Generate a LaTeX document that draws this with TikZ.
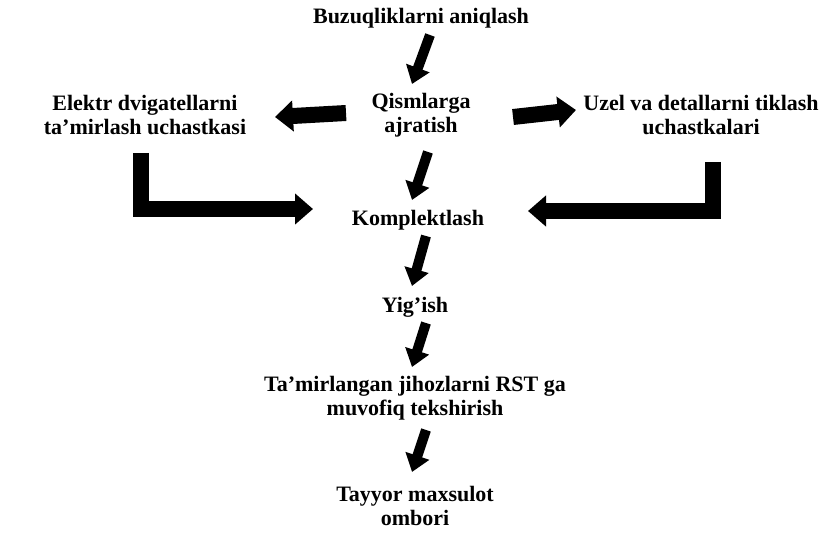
\documentclass[tikz,border=0pt]{standalone}
\usepackage{fontspec}
\setmainfont{Liberation Serif}
\usetikzlibrary{arrows.meta,calc}
\begin{document}
\begin{tikzpicture}[x=1pt,y=-1pt,
  lbl/.style={font=\fontsize{22}{24}\selectfont\bfseries, align=center, inner sep=0pt},
  blk/.style={draw=black, line width=10pt, -{Triangle[width=24pt,length=17pt]}},
  lblk/.style={draw=black, line width=16pt, -{Triangle[width=30pt,length=18pt]}, line join=miter}]
\useasboundingbox (0,0) rectangle (819,537);
\node[lbl] (buz) at (421,18) {Buzuqliklarni aniqlash};
\node[lbl] (qism) at (421,115) {Qismlarga\\ajratish};
\node[lbl] (elek) at (145,115) {Elektr dvigatellarni\\ta’mirlash uchastkasi};
\node[lbl] (uzel) at (701,115) {Uzel va detallarni tiklash\\uchastkalari};
\node[lbl] (komp) at (418,220) {Komplektlash};
\node[lbl] (yig) at (415,307) {Yig’ish};
\node[lbl] (tam) at (415,398) {Ta’mirlangan jihozlarni RST ga\\muvofiq tekshirish};
\node[lbl] (tay) at (415,506) {Tayyor maxsulot\\ombori};
% down arrows
\draw[blk] ($(buz)+(9,17)$) -- ($(qism)+(-9,-31)$);
\draw[blk] ($(qism)+(7,37)$) -- ($(komp)+(-6,-20)$);
\draw[blk] ($(komp)+(8,16)$) -- ($(yig)+(-3,-21)$);
\draw[blk] ($(yig)+(11,16)$) -- ($(tam)+(-3,-31)$);
\draw[blk] ($(tam)+(11,32)$) -- ($(tay)+(-3,-34)$);
% side arrows
\draw[lblk] ($(qism)+(-75,-2)$) -- ($(elek)+(130,2)$);
\draw[lblk] ($(qism)+(92,2)$) -- ($(uzel)+(-125,-5)$);
% L arrows
\draw[lblk] ($(elek)+(-4,38)$) |- ($(komp)+(-105,-11)$);
\draw[lblk] ($(uzel)+(12,47)$) |- ($(komp)+(110,-9)$);
\end{tikzpicture}
\end{document}
